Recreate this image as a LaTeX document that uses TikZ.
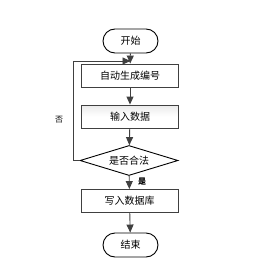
\documentclass[tikz,border=0pt]{standalone}
\usepackage{fontspec}
\newfontfamily\cjk{Noto Sans CJK SC}
\usetikzlibrary{shapes.geometric,arrows.meta}
\begin{document}
\begin{tikzpicture}[x=1pt,y=-1pt,
  every node/.style={font=\cjk\fontsize{10}{12}\selectfont},
  term/.style={draw=black,line width=0.9pt,rounded corners=12pt,minimum width=55pt,minimum height=24pt,inner sep=0pt},
  proc/.style={draw=black!75,line width=0.9pt,minimum width=97pt,minimum height=23pt,inner sep=0pt},
  dec/.style={draw=black,line width=0.9pt,diamond,aspect=3.3,minimum width=98pt,minimum height=30pt,inner sep=0pt},
  conn/.style={draw=black!75,line width=0.9pt,-{Triangle[length=8pt,width=7pt]}},
  lbl/.style={font=\cjk\fontsize{8}{9}\selectfont}]
\useasboundingbox (0,0) rectangle (256,262);
\node[term] (start) at (130.5,41) {开始};
\node[proc] (b1) at (130,75.5) {自动生成编号};
\node[proc,top color=black!8,bottom color=white,middle color=white] (b2) at (130,116.5) {输入数据};
\node[dec] (d) at (129,160.5) {是否合法};
\node[proc] (b3) at (129.5,201) {写入数据库};
\node[term] (end) at (130.5,245) {结束};
\coordinate (j) at (130.5,61);
\draw[conn] (start) -- (b1);
\draw[conn] (b1) -- (b2);
\draw[conn] (b2) -- (d);
\draw[conn] (d) -- (b3);
\draw[conn] (b3) -- (end);
\draw[conn] (d.west) -- ++(-6,0) |- (j);
\node[lbl] (no) at (59,120) {否};
\node[lbl,font=\cjk\bfseries\fontsize{8}{9}\selectfont] (yes) at (142,182) {是};
\end{tikzpicture}
\end{document}
